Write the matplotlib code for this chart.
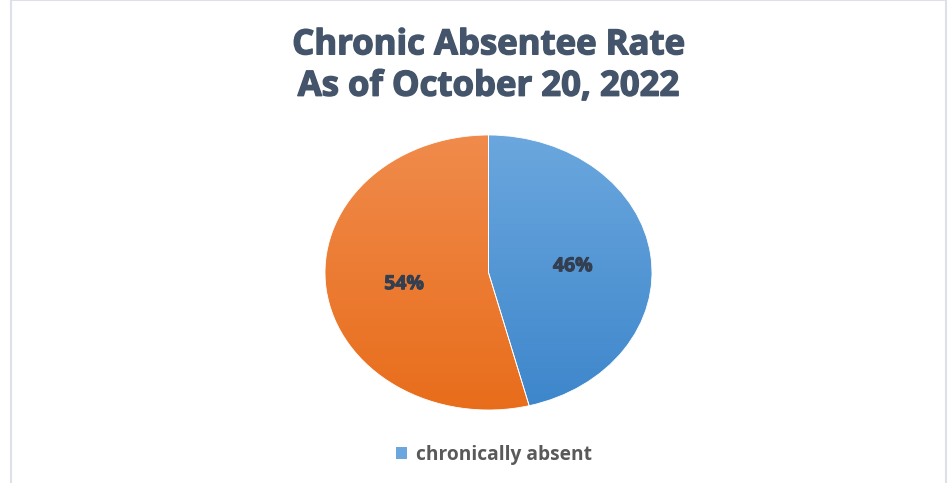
import matplotlib
matplotlib.use("Agg")
import matplotlib.pyplot as plt
import matplotlib.patheffects as pe
import numpy as np
from matplotlib.colors import LinearSegmentedColormap
from matplotlib.patches import Rectangle

title = "Chronic Absentee Rate\nAs of October 20, 2022"
categories = ["chronically absent", "not chronically absent"]
values = [46, 54]
top_colors = ["#6ba7de", "#f08b4c"]
bottom_colors = ["#3d86cb", "#e86d1b"]

W, H = 949, 483
fig = plt.figure(figsize=(W / 100, H / 100), dpi=100)
fig.patch.set_facecolor("white")

# outer border of the chart area
fig.add_artist(Rectangle((10.5 / W, -0.1), (946 - 10.5) / W, 1.1 - 0.5 / H,
                         transform=fig.transFigure, fill=False,
                         edgecolor="#dde0e8", linewidth=1.5))

cx, cy = 488.5, 272.5
rx, ry = 163.5, 137.5
aw, ah = 2.5 * rx, 2.5 * ry
ax = fig.add_axes([(cx - aw / 2) / W, (H - cy - ah / 2) / H, aw / W, ah / H])

wedges, texts, autotexts = ax.pie(
    values, startangle=90, counterclock=False,
    autopct=lambda p: f"{p:.0f}%", pctdistance=0.52,
    colors=top_colors, wedgeprops=dict(edgecolor="white", linewidth=0.6),
    textprops=dict(fontsize=14, fontweight="bold", color="#333f50",
                   family="Open Sans"))
ax.set_aspect("auto")

# vertical gradient fill, clipped to each wedge
grad = np.linspace(0, 1, 256).reshape(-1, 1)
for w, tc, bc in zip(wedges, top_colors, bottom_colors):
    cmap = LinearSegmentedColormap.from_list("g", [bc, tc])
    im = ax.imshow(grad, extent=(-1, 1, -1, 1), origin="lower", cmap=cmap,
                   aspect="auto", zorder=w.get_zorder() + 0.1)
    im.set_clip_path(w)
    w.set_facecolor("none")
    w.set_zorder(w.get_zorder() + 0.2)
for t in autotexts:
    t.set_zorder(5)
    x, y = t.get_position()
    t.set_position((x, y - 0.02))
    t.set_path_effects([pe.withStroke(linewidth=0.7, foreground="#333f50")])
ax.set_xlim(-1.25, 1.25)
ax.set_ylim(-1.25, 1.25)

fig.text(cx / W, 1 - 66 / H, title, ha="center", va="center",
         fontsize=25, fontweight="bold", color="#44546a", family="Open Sans",
         linespacing=1.2,
         path_effects=[pe.withStroke(linewidth=1.0, foreground="#44546a")])

leg = fig.legend([wedges[0]], [categories[0]], loc="center",
                 bbox_to_anchor=(494 / W, 1 - 455 / H), frameon=False,
                 prop=dict(family="Open Sans", weight="bold", size=13.8),
                 handlelength=0.55, handleheight=0.55, handletextpad=0.45)
leg.legend_handles[0].set_facecolor(top_colors[0])
leg.legend_handles[0].set_edgecolor("none")
for t in leg.get_texts():
    t.set_color("#595959")

fig.savefig("out.png", dpi=100, facecolor="white")
